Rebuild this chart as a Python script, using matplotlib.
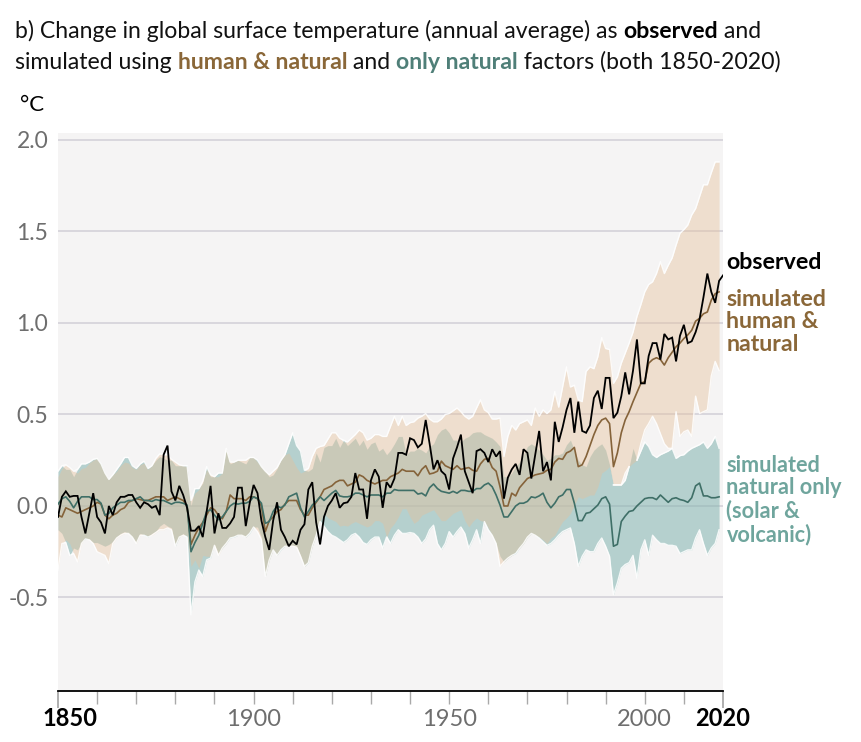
import matplotlib
matplotlib.use("Agg")
import matplotlib.pyplot as plt
from matplotlib.text import Annotation
import numpy as np

plt.rcParams['font.family'] = ['Lato', 'DejaVu Sans']

obs_years = np.arange(1850, 2021)
model_years = np.arange(1850, 2020)

observed = [
 -.06,.05,.08,.05,.055,.055,-.06,-.15,-.04,.07,
 -.06,-.09,-.15,0,-.05,.02,.05,.05,.06,.06,
 .02,-.01,.02,.01,-.01,0,-.05,.28,.33,.08,
 .03,.11,.06,-.01,-.135,-.135,-.11,-.17,-.03,.11,
 -.15,-.04,-.12,-.12,-.095,-.06,.10,.10,-.11,.015,
 .115,.07,-.08,-.17,-.24,-.08,.02,-.13,-.17,-.22,
 -.19,-.21,-.13,-.10,.09,.13,-.09,-.21,-.06,0,
 .03,.07,-.01,.015,.02,.05,.18,.09,.09,-.07,
 .14,.20,.16,-.01,.13,.10,.15,.29,.29,.28,
 .37,.36,.32,.34,.47,.34,.20,.25,.19,.17,
 .09,.26,.32,.39,.19,.13,.07,.30,.31,.29,
 .24,.31,.27,.30,.04,.155,.20,.23,.17,.31,
 .29,.15,.28,.41,.19,.24,.14,.46,.35,.43,
 .525,.59,.40,.57,.41,.40,.44,.59,.63,.53,
 .70,.70,.48,.51,.60,.73,.61,.74,.91,.67,
 .67,.82,.89,.89,.80,.94,.91,.92,.79,.93,
 .99,.89,.90,.95,1.02,1.14,1.27,1.17,1.11,1.23,1.26]

human_natural = [
 -.05,-.06,-.01,-.02,-.03,-.04,-.03,-.02,-.01,0,
 .02,.01,-.05,-.07,-.05,-.04,-.02,-.01,.02,.03,
 .04,.035,.03,.03,.04,.05,.05,.05,.03,.04,
 .05,.04,.03,0,-.21,-.16,-.12,-.09,-.05,-.01,
 -.02,-.05,-.07,-.03,.06,.04,.04,.04,.03,.05,
 .05,.04,0,-.14,-.08,-.06,-.03,-.02,.01,.03,
 .03,.03,-.02,-.05,-.05,-.01,.02,.05,.09,.10,
 .11,.13,.14,.14,.11,.12,.13,.17,.16,.14,
 .13,.12,.13,.14,.14,.16,.17,.18,.20,.19,
 .19,.19,.165,.20,.22,.175,.18,.19,.245,.22,
 .21,.20,.22,.20,.205,.21,.195,.19,.23,.255,
 .26,.21,.19,.105,0,0,.07,.055,.10,.125,
 .15,.16,.17,.175,.18,.195,.20,.24,.26,.255,
 .29,.30,.32,.215,.225,.27,.33,.39,.44,.47,
 .48,.45,.215,.29,.40,.47,.515,.57,.62,.67,
 .68,.78,.80,.81,.80,.77,.81,.84,.87,.89,
 .915,.935,.96,1.01,1.025,1.05,1.06,1.125,1.16,1.17]

natural_only = [
 .01,.04,.05,.025,-.01,.025,.05,.05,.05,.035,
 .035,.015,-.05,-.04,-.01,.005,.02,.02,.03,.03,
 .04,.05,.03,.03,.025,.035,.03,.03,.02,.01,
 .02,.02,.015,.005,-.25,-.20,-.16,-.095,-.03,-.02,
 -.05,-.075,-.06,-.03,0,.015,.01,.015,.015,.025,
 .05,.04,.015,-.095,-.085,-.03,0,-.01,.005,.05,
 .06,.07,-.01,-.06,-.03,.005,.025,.05,.03,.05,
 .07,.085,.055,.05,.05,.055,.07,.07,.06,.05,
 .06,.06,.06,.05,.07,.07,.09,.085,.085,.085,
 .085,.085,.065,.07,.055,.10,.12,.095,.08,.075,
 .07,.08,.07,.085,.085,.08,.08,.095,.095,.115,
 .125,.105,.06,.005,-.06,-.06,-.03,0,.015,.015,
 .025,.05,.045,.055,.07,.02,-.01,.015,.05,.06,
 .09,.09,.015,-.08,-.08,-.04,-.035,-.015,.005,.04,
 .05,.01,-.22,-.21,-.085,-.055,-.03,-.025,0,.02,
 .04,.045,.045,.035,.06,.04,.02,.04,.045,.035,
 .03,.02,.045,.11,.125,.055,.055,.045,.045,.05]

hn_upper = [
 .16,.205,.225,.21,.19,.18,.205,.21,.235,.25,
 .26,.225,.18,.145,.17,.19,.22,.24,.235,.21,
 .20,.225,.235,.20,.22,.26,.285,.28,.28,.255,
 .24,.225,.22,.215,.03,.07,.09,.135,.20,.17,
 .16,.16,.18,.315,.24,.24,.25,.25,.25,.265,
 .265,.24,.215,.19,.17,.19,.21,.25,.28,.29,
 .25,.21,.18,.19,.205,.27,.315,.325,.33,.365,
 .40,.40,.37,.35,.35,.37,.39,.415,.40,.36,
 .37,.39,.39,.38,.38,.435,.49,.44,.49,.44,
 .455,.46,.48,.49,.505,.475,.46,.46,.475,.50,
 .505,.52,.535,.515,.49,.475,.49,.535,.58,.525,
 .51,.475,.475,.48,.27,.38,.44,.415,.45,.46,
 .47,.44,.535,.49,.525,.505,.525,.625,.54,.65,
 .76,.65,.66,.58,.57,.735,.76,.75,.815,.92,
 .86,.855,.67,.705,.78,.835,.89,.95,1.035,1.10,
 1.17,1.21,1.225,1.27,1.335,1.27,1.315,1.355,1.425,1.49,
 1.51,1.535,1.59,1.625,1.69,1.755,1.755,1.82,1.88,1.88]

hn_lower = [
 -.35,-.205,-.185,-.205,-.26,-.305,-.205,-.175,-.185,-.205,
 -.25,-.26,-.27,-.315,-.205,-.175,-.16,-.15,-.15,-.17,
 -.205,-.16,-.155,-.165,-.16,-.145,-.13,-.13,-.12,-.13,
 -.215,-.17,-.16,-.16,-.33,-.295,-.34,-.27,-.275,-.275,
 -.215,-.27,-.23,-.205,-.17,-.165,-.16,-.16,-.17,-.14,
 -.115,-.14,-.185,-.385,-.295,-.24,-.27,-.23,-.22,-.22,
 -.22,-.225,-.275,-.33,-.305,-.22,-.16,-.085,-.04,-.065,
 -.075,-.085,-.11,-.105,-.11,-.095,-.085,-.095,-.105,-.115,
 -.105,-.08,-.08,-.095,-.17,-.12,-.095,-.06,-.015,-.015,
 -.06,-.095,-.08,-.05,-.04,-.03,-.02,-.05,-.08,-.08,
 -.06,-.04,-.03,-.02,-.08,-.115,-.085,-.065,-.08,-.085,
 -.12,-.16,-.205,-.33,-.305,-.285,-.27,-.25,-.23,-.205,
 -.17,-.15,-.16,-.17,-.185,-.205,-.175,-.16,-.12,-.085,
 -.065,-.04,.005,.05,.04,.05,.06,.06,.105,.18,
 .195,.215,.115,.115,.115,.18,.215,.235,.25,.34,
 .415,.45,.49,.45,.395,.34,.315,.315,.515,.38,
 .405,.415,.38,.60,.505,.515,.525,.71,.79,.74]

nat_upper = [
 .19,.22,.20,.20,.16,.20,.23,.23,.24,.255,
 .26,.23,.18,.145,.17,.20,.23,.265,.265,.22,
 .205,.23,.245,.205,.22,.25,.27,.26,.25,.25,
 .22,.22,.22,.22,0,.095,.095,.125,.215,.16,
 .16,.18,.18,.315,.23,.24,.25,.24,.23,.265,
 .265,.25,.215,.19,.16,.17,.205,.25,.28,.34,
 .40,.33,.30,.195,.19,.205,.29,.24,.32,.33,
 .33,.37,.32,.36,.33,.35,.37,.33,.36,.31,
 .34,.35,.30,.315,.28,.305,.34,.38,.38,.28,
 .30,.30,.315,.305,.29,.325,.34,.39,.415,.425,
 .40,.36,.36,.35,.37,.38,.40,.405,.405,.39,
 .38,.37,.35,.325,.16,.16,.18,.215,.24,.28,
 .325,.34,.325,.305,.28,.25,.26,.28,.28,.29,
 .335,.36,.305,.25,.225,.215,.27,.305,.325,.34,
 .305,.225,.115,.115,.115,.14,.215,.315,.25,.30,
 .35,.325,.28,.265,.28,.29,.30,.315,.26,.275,
 .28,.30,.315,.325,.335,.35,.315,.34,.38,.315]

nat_lower = [
 -.13,-.15,-.20,-.27,-.23,-.24,-.20,-.18,-.18,-.20,
 -.20,-.21,-.22,-.21,-.195,-.17,-.15,-.14,-.15,-.17,
 -.20,-.15,-.16,-.17,-.15,-.14,-.11,-.095,-.11,-.12,
 -.22,-.17,-.15,-.17,-.595,-.415,-.35,-.385,-.295,-.285,
 -.21,-.26,-.23,-.205,-.175,-.17,-.16,-.16,-.17,-.15,
 -.115,-.115,-.17,-.385,-.295,-.24,-.27,-.24,-.22,-.215,
 -.215,-.22,-.27,-.33,-.31,-.22,-.16,-.085,-.11,-.14,
 -.16,-.17,-.185,-.20,-.185,-.16,-.15,-.17,-.20,-.21,
 -.185,-.17,-.17,-.23,-.16,-.205,-.16,-.13,-.15,-.15,
 -.145,-.15,-.17,-.205,-.18,-.13,-.105,-.205,-.24,-.205,
 -.14,-.17,-.14,-.115,-.15,-.23,-.185,-.13,-.205,-.085,
 -.13,-.16,-.205,-.275,-.305,-.285,-.27,-.26,-.23,-.205,
 -.17,-.15,-.16,-.175,-.195,-.215,-.205,-.185,-.16,-.14,
 -.13,-.12,-.205,-.33,-.275,-.24,-.25,-.25,-.205,-.175,
 -.22,-.275,-.485,-.42,-.34,-.32,-.31,-.27,-.395,-.24,
 -.185,-.27,-.16,-.185,-.205,-.205,-.215,-.215,-.22,-.26,
 -.25,-.24,-.24,-.175,-.13,-.205,-.27,-.23,-.205,-.13]

y_ticks = [-0.5, 0.0, 0.5, 1.0, 1.5, 2.0]
y_labels = ['-0.5', '0.0', '0.5', '1.0', '1.5', '2.0']
x_decades = list(range(1850, 2021, 10))
x_light_labels = [1900, 1950, 2000]

assert len(observed) == len(obs_years)
for s in (human_natural, natural_only, hn_upper, hn_lower, nat_upper, nat_lower):
    assert len(s) == len(model_years), len(s)

W, H = 862, 742
fig = plt.figure(figsize=(W/100, H/100), dpi=100, facecolor='white')
ax = fig.add_axes([58/W, 1-691/H, (723-58)/W, (691-133)/H])
ax.set_facecolor('#F5F4F4')
ax.set_xlim(1850, 2020)
ax.set_ylim(-1.011, 2.038)

for s in ['top', 'right', 'left']:
    ax.spines[s].set_visible(False)
ax.spines['bottom'].set_color('black')
ax.spines['bottom'].set_linewidth(1.3)

for v in y_ticks:
    ax.axhline(v, color='#D9D7DD', lw=1.4, zorder=1)

ax.fill_between(model_years, nat_lower, nat_upper, color='#82B4AF', alpha=0.55, lw=0, zorder=2)
ax.fill_between(model_years, hn_lower, hn_upper, color='#E5C19C', alpha=0.43, lw=0, zorder=3)

# White halo only on the outside of the combined bands
hu, hl, nu, nl = map(np.array, (hn_upper, hn_lower, nat_upper, nat_lower))
outline = [np.maximum(hu, nu), np.minimum(hl, nl),
           np.ma.masked_where(hl < nu, hl), np.ma.masked_where(hl < nu, nu)]
for s in outline:
    ax.plot(model_years, s, color='white', lw=1.0, alpha=0.85, zorder=3.5)

ax.plot(model_years, human_natural, color='#85633A', lw=1.2, zorder=4)
ax.plot(model_years, natural_only, color='#3F6F67', lw=1.2, zorder=5)
ax.plot(obs_years, observed, color='black', lw=1.3, zorder=6, solid_joinstyle='miter')

ax.set_yticks(y_ticks)
ax.set_yticklabels(y_labels, fontsize=16.5, color='#6E6E6E')
ax.tick_params(axis='y', length=0, pad=7)

ax.set_xticks(x_decades)
ax.set_xticklabels([])
ax.tick_params(axis='x', length=9, width=1, color='#A9A9A9')
for t, yr in zip(ax.xaxis.get_major_ticks(), x_decades):
    if yr in (1850, 2020):
        t.tick1line.set_color('black')
        t.tick1line.set_markersize(12)
        t.tick1line.set_markeredgewidth(1.3)

def figtext(px, py, s, **kw):
    return fig.text(px/W, 1-py/H, s, **kw)

for yr in x_light_labels:
    ax.annotate(str(yr), xy=(yr, 0), xycoords=('data', 'axes fraction'), xytext=(0, -28),
                textcoords='offset pixels', ha='center', va='center', fontsize=17, color='#6E6E6E')
figtext(70, 719, '1850', ha='center', va='center', fontsize=17, fontweight='bold', color='black')
figtext(723, 719, '2020', ha='center', va='center', fontsize=17, fontweight='bold', color='black')

figtext(20, 105, '°C', ha='left', va='center', fontsize=16, color='black')

def rich_line(px, py, parts, size=16.55):
    last = None
    for s, color, weight in parts:
        if last is None:
            last = figtext(px, py, s, ha='left', va='baseline', fontsize=size, color=color, fontweight=weight)
        else:
            last = fig.add_artist(Annotation(
                s, xy=(1, 0), xycoords=last, xytext=(0, 0), textcoords='offset pixels',
                ha='left', va='bottom', fontsize=size, color=color, fontweight=weight))

T_BROWN = '#8A6738'
T_GREEN = '#4F7F78'
rich_line(15, 38, [('b) Change in global surface temperature (annual average) as ', '#111111', 'normal'),
                   ('observed', 'black', 'bold'), (' and', '#111111', 'normal')])
rich_line(15, 69, [('simulated using ', '#111111', 'normal'), ('human & natural', T_BROWN, 'bold'),
                   (' and ', '#111111', 'normal'), ('only natural', T_GREEN, 'bold'),
                   (' factors (both 1850-2020)', '#111111', 'normal')])

figtext(726.5, 262, 'observed', ha='left', va='center', fontsize=16.7, fontweight='bold', color='black')
for py, s in zip([299, 322, 345], ['simulated', 'human &', 'natural']):
    figtext(726.5, py, s, ha='left', va='center', fontsize=16.7, fontweight='bold', color=T_BROWN)
for py, s in zip([465, 488, 511, 535], ['simulated', 'natural only', '(solar &', 'volcanic)']):
    figtext(726.5, py, s, ha='left', va='center', fontsize=15.6, fontweight='bold', color='#6FA59D')

fig.savefig('out.png', dpi=100, facecolor='white')
